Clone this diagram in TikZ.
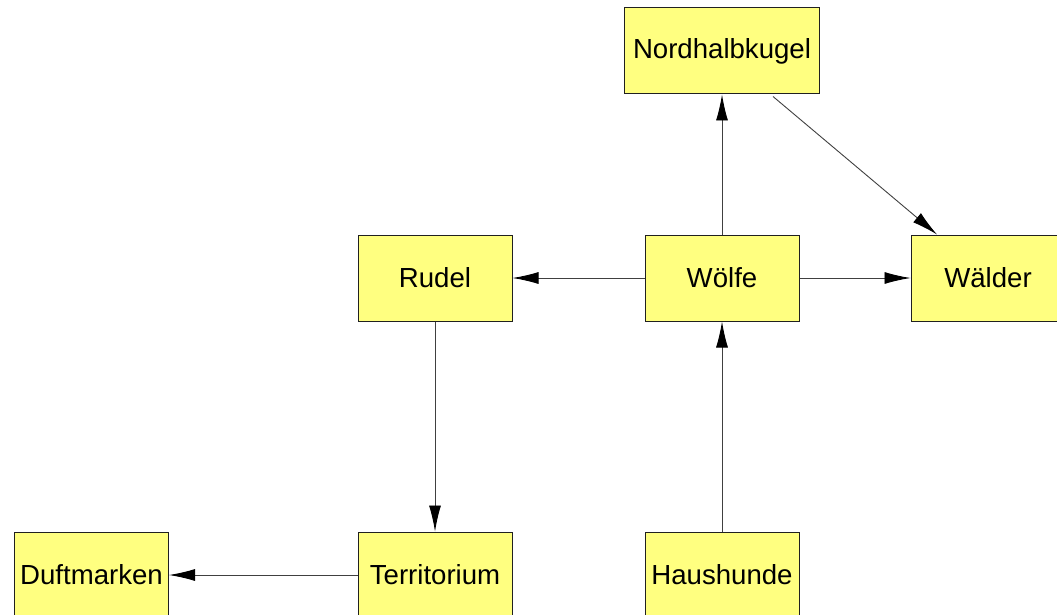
\documentclass[tikz,border=0pt]{standalone}
\usepackage{fontspec}
\setmainfont{Liberation Sans}
\usetikzlibrary{arrows.meta,calc}
\definecolor{boxfill}{HTML}{FFFF80}
\definecolor{boxline}{HTML}{202020}
\begin{document}
\begin{tikzpicture}[x=1pt,y=-1pt,
  box/.style={draw=boxline,fill=boxfill,line width=1pt,inner sep=0pt,
    minimum width=154pt,minimum height=86pt,
    font=\fontsize{27.6pt}{32pt}\selectfont},
  conn/.style={draw=black!75,line width=0.9pt,-{Latex[length=26pt,width=12pt,black,fill=black]}}]
\useasboundingbox (0,0) rectangle (1057,615);
\clip (0,0) rectangle (1057,615);
\node[box,minimum width=195pt] (N) at (722,51) {Nordhalbkugel};
\node[box] (R) at (435,278) {Rudel};
\node[box] (W) at (722,278) {Wölfe};
\node[box] (A) at (988,278) {Wälder};
\node[box] (D) at (91.5,575) {Duftmarken};
\node[box] (T) at (435,575) {Territorium};
\node[box] (H) at (722,575) {Haushunde};
\coordinate (n1) at ($(N.south)+(51,2)$);
\coordinate (a1) at ($(A.north)+(-51,0)$);
\draw[conn] (W) -- (N);
\draw[conn] (n1) -- (a1);
\draw[conn] (W) -- (R);
\draw[conn] (W) -- (A);
\draw[conn] (H) -- (W);
\draw[conn] (R) -- (T);
\draw[conn] (T) -- (D);
\end{tikzpicture}
\end{document}
